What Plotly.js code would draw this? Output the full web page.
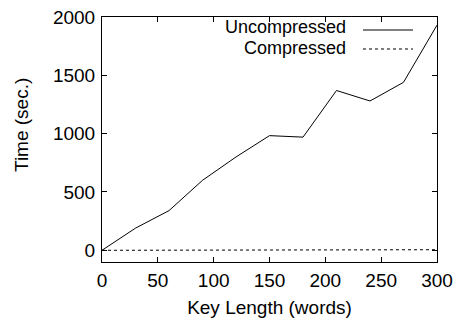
<!DOCTYPE html>
<html>
<head>
<meta charset="utf-8">
<script src="https://cdn.plot.ly/plotly-3.0.1.min.js"></script>
<style>html,body{margin:0;padding:0;background:#fff;}#chart{width:456px;height:324px;}</style>
</head>
<body>
<div id="chart"></div>
<script>
const keyLength = [0, 30, 60, 90, 120, 150, 180, 210, 240, 270, 300];
const uncompressed = [0, 190, 340, 600, 800, 983, 970, 1370, 1280, 1440, 1930];
const compressed = [0, 1, 1, 2, 2, 3, 3, 4, 4, 5, 5];
const seriesNames = ["Uncompressed", "Compressed"];
const xTitle = "Key Length (words)";
const yTitle = "Time (sec.)";

const FONT = "Liberation Sans, Arial, Helvetica, sans-serif";

const traces = [
  {x: keyLength, y: uncompressed, mode: "lines", name: seriesNames[0],
   line: {color: "#000", width: 1}},
  {x: keyLength, y: compressed, mode: "lines", name: seriesNames[1],
   line: {color: "#000", width: 1, dash: "dot"}}
];

const axisCommon = {
  showgrid: false, zeroline: false, showline: true, linecolor: "#000", linewidth: 1,
  mirror: "allticks", ticks: "inside", ticklen: 5, tickcolor: "#000", tickwidth: 1,
  tickfont: {family: FONT, size: 19, color: "#000"}
};

const layout = {
  width: 456, height: 324,
  margin: {l: 102, r: 19, t: 17, b: 62},
  paper_bgcolor: "#fff", plot_bgcolor: "#fff",
  showlegend: false,
  font: {family: FONT, color: "#000"},
  xaxis: Object.assign({}, axisCommon, {
    range: [0, 300], tickvals: [0, 50, 100, 150, 200, 250, 300],
    ticklabelstandoff: 1,
    title: {text: xTitle, font: {family: FONT, size: 19, color: "#000"}, standoff: 10}
  }),
  yaxis: Object.assign({}, axisCommon, {
    range: [-100.3, 2000], tickvals: [0, 500, 1000, 1500, 2000],
    ticklabelstandoff: 2
  }),
  annotations: [
    {text: yTitle, xref: "paper", yref: "paper", x: 0, y: (262 - 125) / 245,
     xanchor: "center", yanchor: "middle", xshift: -80, textangle: -90, showarrow: false,
     font: {family: FONT, size: 19, color: "#000"}},
    {text: seriesNames[0], xref: "paper", yref: "paper", x: (347 - 102) / 335, y: (262 - 27) / 245,
     xanchor: "right", yanchor: "middle", showarrow: false, borderpad: 0,
     font: {family: FONT, size: 18, color: "#000"}},
    {text: seriesNames[1], xref: "paper", yref: "paper", x: (347 - 102) / 335, y: (262 - 48) / 245,
     xanchor: "right", yanchor: "middle", showarrow: false, borderpad: 0,
     font: {family: FONT, size: 18, color: "#000"}}
  ],
  shapes: [
    {type: "line", xref: "paper", yref: "paper",
     x0: (363 - 102) / 335, x1: (413 - 102) / 335, y0: (262 - 30) / 245, y1: (262 - 30) / 245,
     line: {color: "#000", width: 1}},
    {type: "line", xref: "paper", yref: "paper",
     x0: (363 - 102) / 335, x1: (413 - 102) / 335, y0: (262 - 49) / 245, y1: (262 - 49) / 245,
     line: {color: "#000", width: 1, dash: "dot"}}
  ]
};

Plotly.newPlot("chart", traces, layout, {displayModeBar: false, staticPlot: true});
</script>
</body>
</html>
